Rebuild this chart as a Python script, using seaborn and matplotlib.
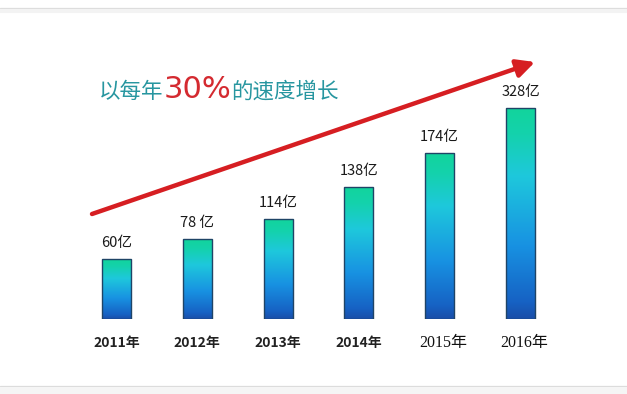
import numpy as np
import pandas as pd
import matplotlib
matplotlib.use("Agg")
import matplotlib.pyplot as plt
import seaborn as sns
from matplotlib.colors import LinearSegmentedColormap
from matplotlib.lines import Line2D

# ---- data ----
years = ["2011年", "2012年", "2013年", "2014年", "2015年", "2016年"]
bar_heights = [60, 80, 100, 132, 166, 211]          # visual bar heights
value_labels = ["60亿", "78 亿", "114亿", "138亿", "174亿", "328亿"]
title_pre = "以每年"
title_pct = "30%"
title_post = "的速度增长"

sns.set_theme(style="white")
plt.rcParams['font.family'] = ['Noto Sans CJK SC', 'DejaVu Sans']

W, H = 627, 394
fig = plt.figure(figsize=(W / 100, H / 100), dpi=100)
fig.patch.set_facecolor("white")

# axes: category spacing ~80.8 px, bottom at y=319 px, 1 data unit = 1 px
left_px, right_px = 76.1, 560.9
bot_px, top_px = 319, 40
ax = fig.add_axes([left_px / W, (H - bot_px) / H, (right_px - left_px) / W, (bot_px - top_px) / H])

df = pd.DataFrame({"year": years, "h": bar_heights})
sns.barplot(data=df, x="year", y="h", ax=ax, width=0.36, color="#1ac8d8",
            edgecolor="#1f4466", linewidth=1.0)
ax.set_xlim(-0.5, 5.5)
ax.set_ylim(0, bot_px - top_px)
ax.axis("off")

cmap = LinearSegmentedColormap.from_list(
    "g", [(0.0, "#1a4ea8"), (0.08, "#1662c4"), (0.35, "#1892e2"),
          (0.68, "#1ec8dc"), (0.88, "#14d2ac"), (1.0, "#12d49c")])
grad = np.linspace(0, 1, 256).reshape(-1, 1)
for p in ax.patches:
    x0, y0 = p.get_x(), p.get_y()
    w, h = p.get_width(), p.get_height()
    p.set_facecolor("none")
    im = ax.imshow(grad, cmap=cmap, origin="lower", aspect="auto",
                   extent=[x0, x0 + w, y0, y0 + h], zorder=p.get_zorder() - 0.1)
    im.set_clip_path(p)
ax.set_xlim(-0.5, 5.5)
ax.set_ylim(0, bot_px - top_px)

# value labels
for i, (hgt, lab) in enumerate(zip(bar_heights, value_labels)):
    ax.text(i, hgt + 9, lab, ha="center", va="bottom", fontsize=10.5,
            color="#1a1a1a")

# x labels
for i, yr in enumerate(years):
    if i >= 4:
        fam = ['Liberation Serif', 'Noto Sans CJK SC']
        ax.text(i + 0.05, -24, yr, ha="center", va="center", fontsize=11.5,
                family=fam, color="#111111")
    else:
        ax.text(i, -24, yr, ha="center", va="center", fontsize=10,
                color="#222222", fontweight="bold")

# red growth arrow (figure pixel coords converted)
def px(xp, yp):
    return (xp / W, (H - yp) / H)

ax.annotate("", xy=px(535, 62), xytext=px(92, 214),
            xycoords="figure fraction", textcoords="figure fraction",
            arrowprops=dict(arrowstyle="-|>,head_length=0.9,head_width=0.45",
                            color="#d61e22", lw=3.2, shrinkA=0, shrinkB=0))

# title text
t1 = fig.text(99 / W, (H - 92) / H, title_pre, fontsize=15.5, color="#2796a0",
              va="center", ha="left")
fig.canvas.draw()
r = fig.canvas.get_renderer()
bb = t1.get_window_extent(r)
t2 = fig.text(bb.x1 / W, (H - 90) / H, title_pct, fontsize=22, color="#d42a30",
              va="center", ha="left", family=['DejaVu Sans'])
bb2 = t2.get_window_extent(r)
fig.text(bb2.x1 / W, (H - 92) / H, title_post, fontsize=15.5, color="#2796a0",
         va="center", ha="left")

# page border lines
fig.add_artist(Line2D([0, 1], [(H - 8) / H] * 2, color="#dcdcdc", lw=0.9))
fig.add_artist(Line2D([0, 1], [(H - 11) / H] * 2, color="#f3f3f3", lw=3))
fig.add_artist(Line2D([0, 1], [(H - 386) / H] * 2, color="#dcdcdc", lw=0.9))
fig.add_artist(Line2D([0, 1], [(H - 390) / H] * 2, color="#f5f5f5", lw=5))

fig.savefig("out.png", dpi=100, facecolor="white")
